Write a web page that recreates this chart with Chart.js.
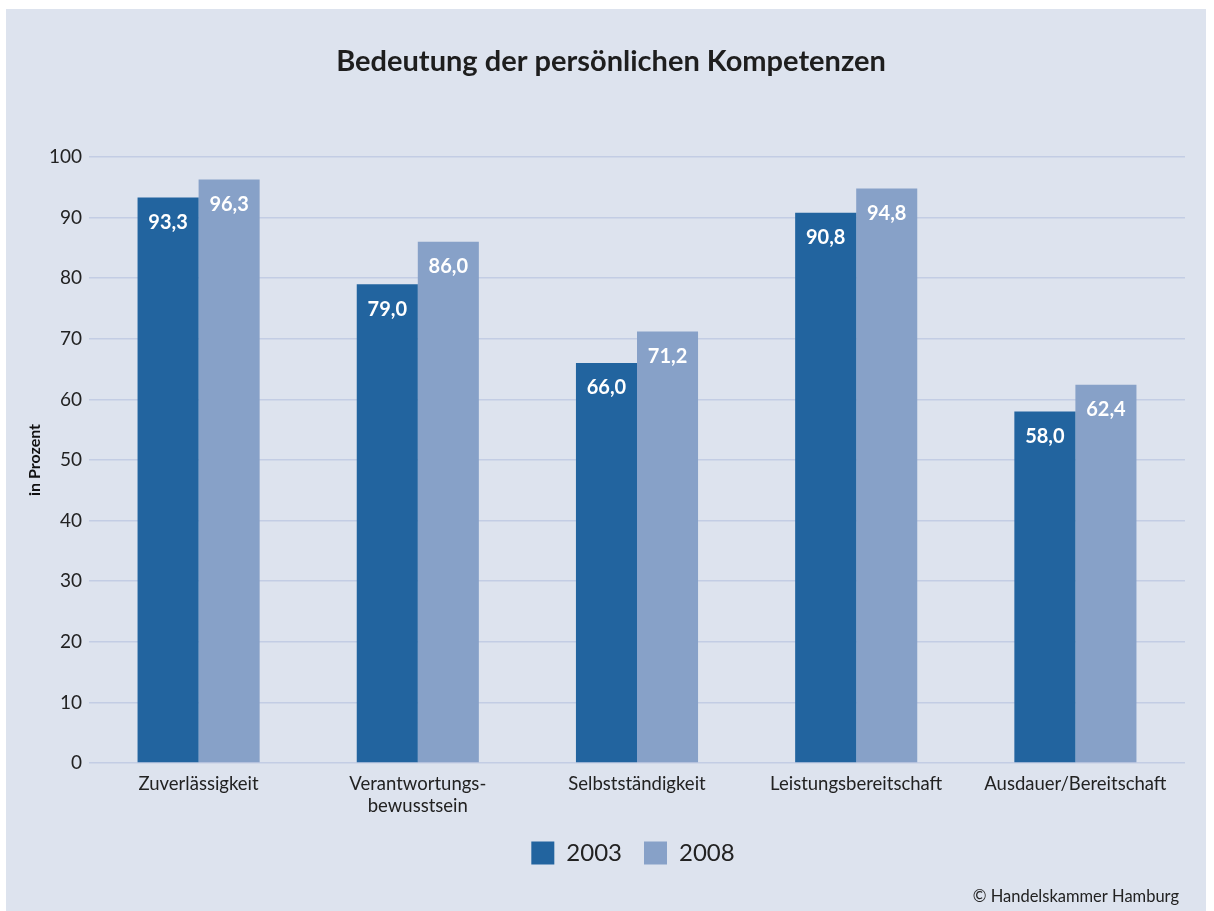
<!DOCTYPE html>
<html><head><meta charset="utf-8">
<script src="https://cdn.jsdelivr.net/npm/chart.js@4"></script>
<style>html,body{margin:0;padding:0;background:#fff;}#wrap{width:1214px;height:911px;}</style>
</head><body><div id="wrap"><canvas id="c" width="1214" height="911"></canvas></div>
<script>
const categories = ["Zuverlässigkeit", ["Verantwortungs-", "bewusstsein"], "Selbstständigkeit", "Leistungsbereitschaft", "Ausdauer/Bereitschaft"];
const series2003 = [93.3, 79.0, 66.0, 90.8, 58.0];
const series2008 = [96.3, 86.0, 71.2, 94.8, 62.4];
const yTicks = [0, 10, 20, 30, 40, 50, 60, 70, 80, 90, 100];
const titleText = "Bedeutung der persönlichen Kompetenzen";
const yAxisTitle = "in Prozent";
const sourceText = "© Handelskammer Hamburg";

const FONT = "Lato, 'Open Sans', sans-serif";

const bgPlugin = {
  id: 'bg',
  afterLayout(chart) {
    const lg = chart.legend, ca = chart.chartArea;
    if (!lg || !ca) return;
    const shift = (ca.left + ca.right) / 2 - 4 - (lg.left + lg.right) / 2;
    lg.left += shift; lg.right += shift;
  },
  beforeDraw(chart) {
    const ctx = chart.ctx;
    ctx.save();
    ctx.fillStyle = '#fff';
    ctx.fillRect(0, 0, chart.width, chart.height);
    ctx.fillStyle = '#dde3ee';
    ctx.fillRect(6, 9, 1200, 902);
    ctx.fillStyle = '#1e1e1e';
    ctx.font = "bold 29px " + FONT;
    ctx.textAlign = 'center';
    ctx.textBaseline = 'middle';
    ctx.fillText(titleText, 611, 62);
    ctx.font = "16.5px " + FONT;
    ctx.textAlign = 'right';
    ctx.fillStyle = '#222';
    ctx.fillText(sourceText, 1179, 897);
    ctx.restore();
  },
  afterDatasetsDraw(chart) {
    const ctx = chart.ctx;
    ctx.save();
    ctx.fillStyle = '#fff';
    ctx.font = "bold 20px " + FONT;
    ctx.textAlign = 'center';
    ctx.textBaseline = 'middle';
    chart.data.datasets.forEach((ds, i) => {
      chart.getDatasetMeta(i).data.forEach((bar, j) => {
        ctx.fillText(ds.data[j].toFixed(1).replace('.', ','), bar.x, bar.y + 25);
      });
    });
    ctx.restore();
  }
};

new Chart(document.getElementById('c'), {
  type: 'bar',
  data: {
    labels: categories,
    datasets: [
      { label: '2003', data: series2003, backgroundColor: '#22649f' },
      { label: '2008', data: series2008, backgroundColor: '#87a1c8' }
    ]
  },
  options: {
    responsive: false,
    animation: false,
    devicePixelRatio: 1,
    layout: { padding: { left: 0, right: 29, top: 157, bottom: 36 } },
    datasets: { bar: { categoryPercentage: 0.557, barPercentage: 1.0 } },
    scales: {
      x: {
        grid: { display: false },
        border: { display: false },
        ticks: { color: '#222', font: { family: FONT, size: 18.5 }, padding: 2, maxRotation: 0, autoSkip: false },
        afterFit(s) { s.height = 56; }
      },
      y: {
        min: 0, max: 100,
        afterBuildTicks(s) { s.ticks = yTicks.map(v => ({ value: v })); },
        grid: { color: '#c3cde4', lineWidth: 1.5, drawTicks: false },
        border: { display: false },
        ticks: { color: '#222', font: { family: FONT, size: 19 }, padding: 7 },
        title: { display: true, text: yAxisTitle, color: '#111', padding: { top: 25, bottom: 0 }, font: { family: FONT, size: 16, weight: 'bold' } },
        afterFit(s) { s.width = 89; }
      }
    },
    plugins: {
      legend: {
        position: 'bottom',
        labels: { boxWidth: 23, boxHeight: 23, color: '#222', font: { family: FONT, size: 24 }, padding: 22 }
      },
      tooltip: { enabled: false },
      title: { display: false }
    }
  },
  plugins: [bgPlugin]
});
</script></body></html>
